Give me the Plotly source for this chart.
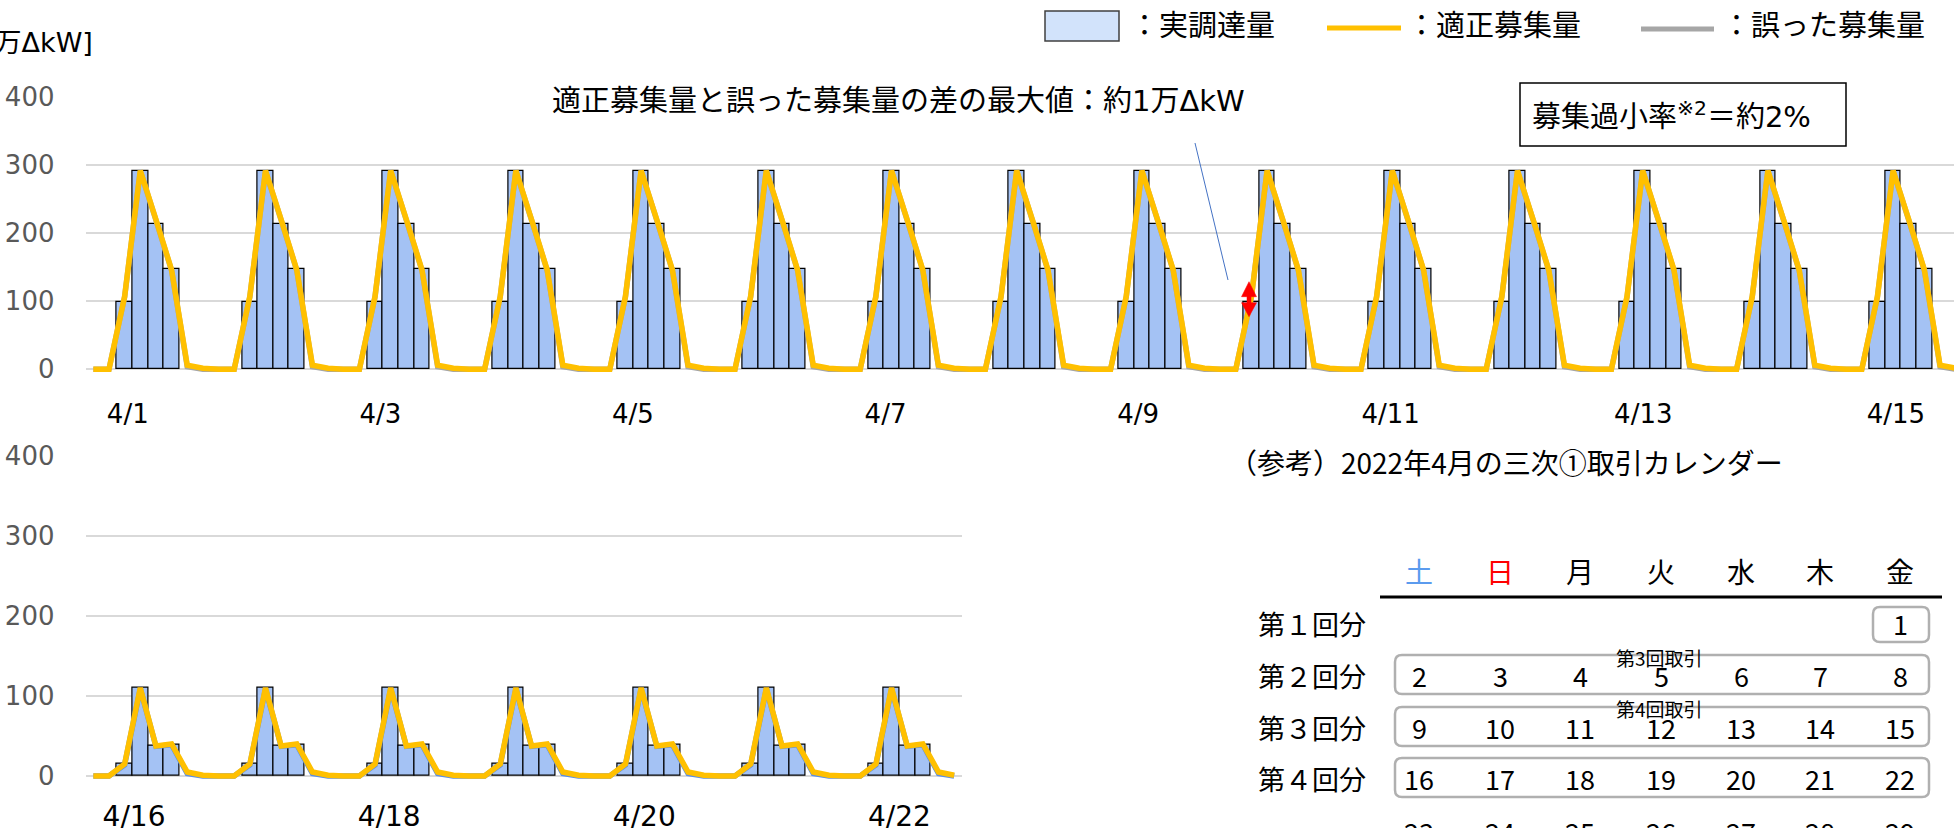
import plotly.graph_objects as go

# ---------------- data ----------------
top_dates = ["4/1", "4/2", "4/3", "4/4", "4/5", "4/6", "4/7", "4/8",
             "4/9", "4/10", "4/11", "4/12", "4/13", "4/14", "4/15"]
bottom_dates = ["4/16", "4/17", "4/18", "4/19", "4/20", "4/21", "4/22"]

# 8 three-hour blocks per day (values in 万ΔkW)
top_actual_day = [0, 0, 99, 291, 213, 147, 0, 0]
top_proper_day = [0, 0, 107, 292, 220, 146, 6, 1.5]
top_wrong_day = [0, 0, 106, 291, 219, 145, 4, 0]

bottom_actual_day = [0, 0, 15, 110, 37.5, 39.6, 0, 0]
bottom_proper_day = [0, 0, 15, 110, 37.5, 40, 5, 1]
bottom_wrong_day = [0, 0, 14, 109, 37, 39, 3, 0]

y_ticks = [0, 100, 200, 300, 400]

legend_labels = ["：実調達量", "：適正募集量", "：誤った募集量"]
note_text = "適正募集量と誤った募集量の差の最大値：約1万ΔkW"
ratio_text = "募集過小率<sup>※2</sup>＝約2%"
unit_text = "[万ΔkW]"

cal_title = "（参考）2022年4月の三次①取引カレンダー"
weekdays = ["土", "日", "月", "火", "水", "木", "金"]
weekday_colors = ["#5B9BEE", "#FF0000", "#000000", "#000000", "#000000", "#000000", "#000000"]
row_labels = ["第１回分", "第２回分", "第３回分", "第４回分"]
cal_rows = [["", "", "", "", "", "", "1"],
            ["2", "3", "4", "5", "6", "7", "8"],
            ["9", "10", "11", "12", "13", "14", "15"],
            ["16", "17", "18", "19", "20", "21", "22"],
            ["23", "24", "25", "26", "27", "28", "29"]]
trade_labels = ["第3回取引", "第4回取引"]

# ---------------- helpers ----------------
W, H = 1954, 828
SPD = 8
def X(px): return px / W
def Y(py): return 1 - py / H

JP = "Noto Sans CJK JP"
MIX = "DejaVu Sans, Noto Sans CJK JP"
BAR_FILL = "#A4C2F4"
YELLOW = "#FFC000"
GRAY = "#A6A6A6"

def build(day_vals, ndays):
    out = []
    for _ in range(ndays):
        out.extend(day_vals)
    return out

top_n = len(top_dates)
bot_n = len(bottom_dates)
top_x = list(range(top_n * SPD))
bot_x = list(range(bot_n * SPD))

top_actual = [v if v else None for v in build(top_actual_day, top_n)]
top_proper = build(top_proper_day, top_n)
top_wrong = build(top_wrong_day, top_n)
bot_actual = [v if v else None for v in build(bottom_actual_day, bot_n)]
bot_proper = build(bottom_proper_day, bot_n)
bot_wrong = build(bottom_wrong_day, bot_n)

fig = go.Figure()

# top panel
fig.add_trace(go.Bar(x=top_x, y=top_actual, width=1, marker=dict(color=BAR_FILL, line=dict(color="#000000", width=1.2)),
                     xaxis="x", yaxis="y", showlegend=False))
fig.add_trace(go.Scatter(x=top_x, y=top_wrong, mode="lines", line=dict(color=GRAY, width=5.5),
                         xaxis="x", yaxis="y", showlegend=False))
fig.add_trace(go.Scatter(x=top_x, y=top_proper, mode="lines", line=dict(color=YELLOW, width=5.5),
                         xaxis="x", yaxis="y", showlegend=False))
# bottom panel
fig.add_trace(go.Bar(x=bot_x, y=bot_actual, width=1, marker=dict(color=BAR_FILL, line=dict(color="#000000", width=1.2)),
                     xaxis="x2", yaxis="y2", showlegend=False))
fig.add_trace(go.Scatter(x=bot_x, y=bot_wrong, mode="lines", line=dict(color="#5B8FE6", width=5.5),
                         xaxis="x2", yaxis="y2", showlegend=False))
fig.add_trace(go.Scatter(x=bot_x, y=bot_proper, mode="lines", line=dict(color=YELLOW, width=5.5),
                         xaxis="x2", yaxis="y2", showlegend=False))

slot_px = 15.65
left_px = 85.5
top_tickvals = [d * SPD + 2.2 + 0.07 * d for d in range(0, top_n, 2)]
top_ticktext = [top_dates[d] for d in range(0, top_n, 2)]
bot_tickvals = [d * SPD + 2.6 + 0.15 * d for d in range(0, bot_n, 2)]
bot_ticktext = [bottom_dates[d] for d in range(0, bot_n, 2)]

xcommon = dict(showgrid=False, zeroline=False, showline=False, ticks="", automargin=False)
ycommon = dict(showgrid=True, gridcolor="#D9D9D9", gridwidth=1.5, zeroline=False, showline=False,
               ticks="", tickvals=y_ticks, tickfont=dict(family="DejaVu Sans", size=26, color="#595959"),
               ticklabelstandoff=30, automargin=False)

fig.update_layout(
    width=W, height=H, margin=dict(l=0, r=0, t=0, b=0, autoexpand=False),
    paper_bgcolor="white", plot_bgcolor="white", bargap=0,
    xaxis=dict(domain=[X(left_px), 1], range=[-0.5, -0.5 + (W - left_px) / slot_px],
               tickvals=top_tickvals, ticktext=top_ticktext, anchor="y", ticklabelstandoff=21,
               tickfont=dict(family="DejaVu Sans", size=26, color="#000000"), **xcommon),
    yaxis=dict(domain=[Y(374.7), Y(97)], range=[-8, 400], anchor="x", **ycommon),
    xaxis2=dict(domain=[X(left_px), X(962)], range=[-0.5, bot_n * SPD - 0.5],
                tickvals=bot_tickvals, ticktext=bot_ticktext, anchor="y2", ticklabelstandoff=16,
                tickfont=dict(family="DejaVu Sans", size=28, color="#000000"), **xcommon),
    yaxis2=dict(domain=[Y(780.8), Y(455.7)], range=[-6, 400], anchor="x2", **ycommon),
)

shapes = []
ann = []

def rect(x0, y0, x1, y1, **kw):
    shapes.append(dict(type="rect", xref="paper", yref="paper", x0=X(x0), x1=X(x1), y0=Y(y1), y1=Y(y0), **kw))

def line(x0, y0, x1, y1, color, width):
    shapes.append(dict(type="line", xref="paper", yref="paper", x0=X(x0), x1=X(x1), y0=Y(y0), y1=Y(y1),
                       line=dict(color=color, width=width)))

def rrect(x0, y0, x1, y1, r, color, width):
    p = (f"M {X(x0 + r)},{Y(y0)} L {X(x1 - r)},{Y(y0)} Q {X(x1)},{Y(y0)} {X(x1)},{Y(y0 + r)} "
         f"L {X(x1)},{Y(y1 - r)} Q {X(x1)},{Y(y1)} {X(x1 - r)},{Y(y1)} "
         f"L {X(x0 + r)},{Y(y1)} Q {X(x0)},{Y(y1)} {X(x0)},{Y(y1 - r)} "
         f"L {X(x0)},{Y(y0 + r)} Q {X(x0)},{Y(y0)} {X(x0 + r)},{Y(y0)} Z")
    shapes.append(dict(type="path", xref="paper", yref="paper", path=p, line=dict(color=color, width=width)))

def text(x, y, s, size, family=JP, color="#000000", xanchor="left"):
    ann.append(dict(xref="paper", yref="paper", x=X(x), y=Y(y), text=s, showarrow=False,
                    xanchor=xanchor, yanchor="middle", font=dict(family=family, size=size, color=color)))

# unit label
text(95, 42, unit_text, 27, MIX, xanchor="right")

# legend
rect(1045, 11, 1119, 41, fillcolor="#D2E3FB", line=dict(color="#404040", width=1.5))
text(1128, 26, legend_labels[0], 29, MIX)
line(1327, 28, 1401, 28, YELLOW, 5)
text(1405, 26, legend_labels[1], 29, MIX)
line(1641, 29, 1714, 29, GRAY, 5)
text(1720, 26, legend_labels[2], 29, MIX)

# note + leader line + red arrow
text(550, 101, note_text, 29, MIX)
line(1195, 143, 1228, 280, "#4472C4", 1)
ax = 1249
arrow = (f"M {X(ax)},{Y(281.7)} L {X(ax + 7.5)},{Y(296.7)} L {X(ax + 2)},{Y(296.7)} "
         f"L {X(ax + 2)},{Y(302.7)} L {X(ax + 7.5)},{Y(302.7)} L {X(ax)},{Y(316.7)} "
         f"L {X(ax - 7.5)},{Y(302.7)} L {X(ax - 2)},{Y(302.7)} L {X(ax - 2)},{Y(296.7)} "
         f"L {X(ax - 7.5)},{Y(296.7)} Z")
shapes.append(dict(type="path", xref="paper", yref="paper", path=arrow, fillcolor="#FF0000",
                   line=dict(color="#FF0000", width=0.5)))

# ratio box
rect(1520, 83, 1846, 146, fillcolor="white", line=dict(color="#000000", width=1.5))
text(1530, 115, ratio_text, 29, MIX)

# calendar
text(1227, 462, cal_title, 28, JP)
col_x = [1419, 1500, 1580, 1661, 1741, 1820, 1900]
for cx, wd, wc in zip(col_x, weekdays, weekday_colors):
    text(cx, 571, wd, 28, JP, color=wc, xanchor="center")
line(1380, 597, 1942, 597, "#000000", 3)
row_y = [623, 675, 727, 778, 831]
for ry, lab in zip(row_y, row_labels):
    text(1312, ry, lab, 27, JP, xanchor="center")
rrect(1873, 607, 1929, 642, 7, "#B0B0B0", 2.5)
for i in range(1, 4):
    rrect(1395, row_y[i] - 20, 1929, row_y[i] + 19, 7, "#B0B0B0", 2.5)
for ry, row in zip(row_y, cal_rows):
    for cx, s in zip(col_x, row):
        if s:
            text(cx, ry, s, 27, JP, xanchor="center")
text(1659, 657, trade_labels[0], 19, JP, xanchor="center")
text(1659, 708, trade_labels[1], 19, JP, xanchor="center")

fig.update_layout(shapes=shapes, annotations=ann)
fig.write_html("out.html", config={"displayModeBar": False},
               post_script="document.body.style.margin='0';document.body.style.overflow='hidden';")
